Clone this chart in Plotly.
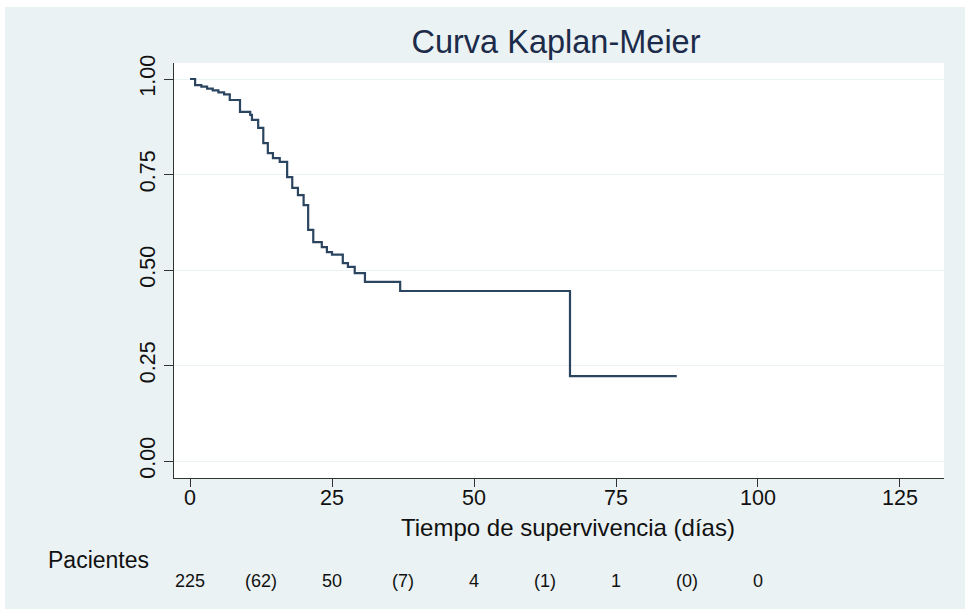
import plotly.graph_objects as go

# Kaplan-Meier estimate (time in days, survival)
times = [0, 0.9, 2.0, 3.0, 4.0, 5.0, 6.0, 7.0, 8.8, 10.6, 10.9, 12.0, 12.9, 13.7,
         14.6, 15.8, 17.1, 18.0, 19.0, 20.0, 20.8, 21.7, 23.2, 24.1, 25.0, 26.9,
         27.8, 29.0, 30.8, 37.0, 66.9, 85.7]
survival = [1.0, 0.984, 0.98, 0.975, 0.97, 0.965, 0.96, 0.945, 0.914, 0.906, 0.893,
            0.872, 0.832, 0.806, 0.793, 0.783, 0.743, 0.715, 0.696, 0.67, 0.605,
            0.573, 0.56, 0.547, 0.54, 0.518, 0.508, 0.492, 0.469, 0.445, 0.222, 0.222]

x_ticks = [0, 25, 50, 75, 100, 125]
y_ticks = [0.0, 0.25, 0.5, 0.75, 1.0]
y_tick_labels = ["0.00", "0.25", "0.50", "0.75", "1.00"]

risk_times = [0, 12.5, 25, 37.5, 50, 62.5, 75, 87.5, 100]
risk_labels = ["225", "(62)", "50", "(7)", "4", "(1)", "1", "(0)", "0"]

title_text = "Curva Kaplan-Meier"
x_title = "Tiempo de supervivencia (días)"
risk_title = "Pacientes"

FONT = "Liberation Sans, Arial, Helvetica, sans-serif"
BG = "#eaf2f3"
LINE = "#2b4560"

fig = go.Figure()
fig.add_trace(go.Scatter(
    x=times, y=survival, mode="lines", line=dict(shape="hv", color=LINE, width=2.2),
    hoverinfo="skip", showlegend=False))

W, H = 965, 609
L, R, T, B = 174, 21, 63, 131
pw, ph = W - L - R, H - T - B

def px_x(p):
    return (p - L) / pw

def px_y(p):
    return (H - B - p) / ph

annotations = [
    dict(text=x_title, xref="paper", yref="paper", x=px_x(568), y=px_y(527),
         xanchor="center", yanchor="middle", showarrow=False,
         font=dict(family=FONT, size=24, color="#111111")),
    dict(text=risk_title, xref="paper", yref="paper", x=px_x(46), y=px_y(560),
         xanchor="left", yanchor="middle", showarrow=False,
         font=dict(family=FONT, size=23, color="#111111")),
]
for t, lab in zip(risk_times, risk_labels):
    annotations.append(dict(text=lab, xref="x", yref="paper", x=t, y=px_y(581),
                            xanchor="center", yanchor="middle", showarrow=False,
                            font=dict(family=FONT, size=18, color="#111111")))

shapes = [
    dict(type="rect", xref="paper", yref="paper", x0=px_x(-5), x1=px_x(W + 5),
         y0=px_y(7), y1=px_y(-5), fillcolor="white", line=dict(width=0), layer="above"),
    dict(type="rect", xref="paper", yref="paper", x0=px_x(-5), x1=px_x(5),
         y0=px_y(H + 5), y1=px_y(-5), fillcolor="white", line=dict(width=0), layer="above"),
]

fig.update_layout(
    width=W, height=H,
    margin=dict(l=L, r=R, t=T, b=B, pad=0),
    paper_bgcolor=BG, plot_bgcolor="white",
    title=dict(text=title_text, x=556 / W, xref="container",
               xanchor="center", y=1 - 42 / H, yref="container", yanchor="middle",
               font=dict(family=FONT, size=32.5, color="#1c2b4a")),
    annotations=annotations, shapes=shapes,
    font=dict(family=FONT, color="#111111"),
    xaxis=dict(range=[-2.82, 132.75], tickvals=x_ticks, showgrid=False, zeroline=False,
               showline=True, linecolor="#333333", linewidth=1.3,
               ticks="outside", ticklen=8, tickcolor="#333333", tickwidth=1.2,
               ticklabelstandoff=-8,
               tickfont=dict(family=FONT, size=21.5, color="#111111")),
    yaxis=dict(range=[-0.0445, 1.0419], tickvals=y_ticks, ticktext=y_tick_labels,
               showgrid=True, gridcolor=BG, gridwidth=1.2, zeroline=False,
               showline=True, linecolor="#333333", linewidth=1.3,
               ticks="outside", ticklen=9, tickcolor="#333333", tickwidth=1.2,
               tickangle=-90, ticklabelstandoff=0,
               tickfont=dict(family=FONT, size=21.5, color="#111111")),
)

fig.write_html("out.html")
